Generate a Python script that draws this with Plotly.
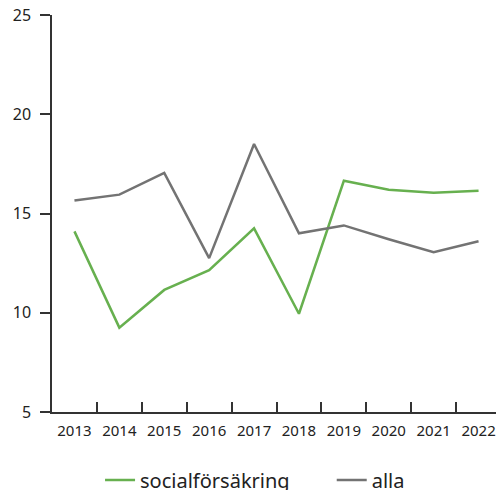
import plotly.graph_objects as go

years = ["2013", "2014", "2015", "2016", "2017", "2018", "2019", "2020", "2021", "2022"]
social = [14.1, 9.25, 11.15, 12.15, 14.25, 9.95, 16.65, 16.2, 16.05, 16.15]
alla = [15.65, 15.95, 17.05, 12.75, 18.5, 14.0, 14.4, 13.7, 13.05, 13.6]
y_ticks = [5, 10, 15, 20, 25]

FONT = "Noto Sans"
TXT = "#222222"
fig = go.Figure()
fig.add_trace(go.Scatter(x=years, y=social, name="socialförsäkring", mode="lines",
                         line=dict(color="#67b04f", width=2.5), legend="legend"))
fig.add_trace(go.Scatter(x=years, y=alla, name="alla", mode="lines",
                         line=dict(color="#737373", width=2.5), legend="legend2"))

leg_common = dict(orientation="h", xanchor="left", yref="container", y=0.021,
                  yanchor="middle", font=dict(size=20, family=FONT, color=TXT),
                  bgcolor="rgba(0,0,0,0)")

# page body adds an 8px offset, so the figure is sized to fit the 504x490 window
fig.update_layout(
    width=496, height=482,
    margin=dict(l=44, r=3, t=7, b=78),
    paper_bgcolor="white", plot_bgcolor="white",
    font=dict(family=FONT, color=TXT, size=15),
    showlegend=True,
    legend=dict(x=0.107, **leg_common),
    legend2=dict(x=0.623, **leg_common),
)
fig.update_xaxes(type="category", range=[-0.5, 9.5], showline=True, linecolor="#333333",
                 linewidth=1.5, ticks="inside", ticklen=10, tickcolor="#333333", tickwidth=1.5,
                 tickson="boundaries", showgrid=False, zeroline=False, automargin=False,
                 ticklabelstandoff=4,
                 tickfont=dict(size=15, family=FONT, color=TXT))
fig.update_yaxes(range=[5, 25], tickvals=y_ticks, showline=True, linecolor="#333333",
                 linewidth=1.5, ticks="outside", ticklen=10, tickcolor="#333333", tickwidth=1.5,
                 showgrid=False, zeroline=False, automargin=False, ticklabelstandoff=6,
                 ticklabeloverflow="allow",
                 tickfont=dict(size=16, family=FONT, color=TXT))

fig.write_html("out.html")
